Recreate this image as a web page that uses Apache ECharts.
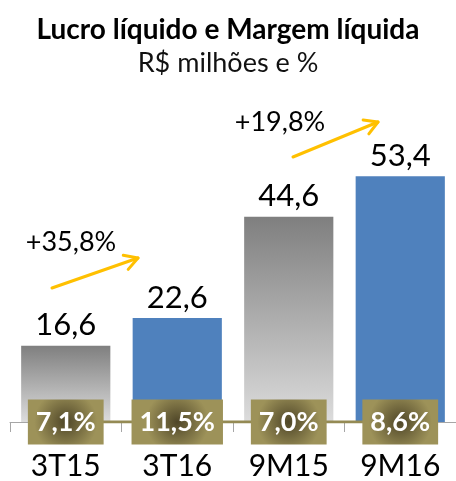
<!DOCTYPE html>
<html>
<head>
<meta charset="utf-8">
<script src="https://cdn.jsdelivr.net/npm/echarts@6/dist/echarts.min.js"></script>
<style>
  html, body { margin: 0; padding: 0; background: #fff; }
  #chart { width: 456px; height: 481px; }
</style>
</head>
<body>
<div id="chart"></div>
<script>
// dados do gráfico
const categories = ['3T15', '3T16', '9M15', '9M16'];
const lucro = [16.6, 22.6, 44.6, 53.4];
const margem = [7.1, 11.5, 7.0, 8.6];
const growthLabels = ['+35,8%', '+19,8%'];

const FONT = 'Lato';
const fmt = v => v.toFixed(1).replace('.', ',');

const grayGrad = new echarts.graphic.LinearGradient(0, 0, 0, 1, [
  { offset: 0, color: '#7f7f7f' },
  { offset: 1, color: '#dcdcdc' }
]);
const boxGrad = new echarts.graphic.RadialGradient(0.5, 0.5, 0.7, [
  { offset: 0, color: '#4f4628' },
  { offset: 1, color: '#9d9259' }
]);

// seta amarela (anotação)
function arrow(x1, y1, x2, y2) {
  const a = Math.atan2(y2 - y1, x2 - x1);
  const h = 15, s = Math.PI / 6;
  const p1 = [x2 - h * Math.cos(a - s), y2 - h * Math.sin(a - s)];
  const p2 = [x2 - h * Math.cos(a + s), y2 - h * Math.sin(a + s)];
  const style = { stroke: '#ffc000', lineWidth: 3, fill: null, lineCap: 'round', lineJoin: 'round' };
  return {
    type: 'group',
    children: [
      { type: 'polyline', shape: { points: [[x1, y1], [x2, y2]] }, style },
      { type: 'polyline', shape: { points: [p1, [x2, y2], p2] }, style }
    ]
  };
}

let myChart = echarts.init(document.getElementById('chart'));
let option = {
  animation: false,
  title: {
    text: 'Lucro líquido e Margem líquida',
    subtext: 'R$ milhões e %',
    left: 'center',
    top: 11,
    itemGap: 6,
    textStyle: { fontFamily: FONT, fontSize: 28, fontWeight: 'bold', color: '#000' },
    subtextStyle: { fontFamily: FONT, fontSize: 27, color: '#111' }
  },
  grid: { left: 10, width: 450, top: 146, height: 276 },
  xAxis: {
    type: 'category',
    data: categories,
    axisLine: { lineStyle: { color: '#a6a6a6', width: 1 } },
    axisTick: { show: true, length: 10, lineStyle: { color: '#a6a6a6' } },
    axisLabel: { fontFamily: FONT, fontSize: 30, color: '#000', margin: 29, lineHeight: 30 }
  },
  yAxis: [
    { type: 'value', min: 0, max: 60, show: false, splitLine: { show: false } },
    { type: 'value', min: 0, max: 100000, show: false, splitLine: { show: false } }
  ],
  series: [
    {
      type: 'bar',
      barCategoryGap: '20%',
      data: lucro.map((v, i) => ({
        value: v,
        itemStyle: { color: i % 2 === 0 ? grayGrad : '#4f81bd' }
      })),
      label: {
        show: true,
        position: 'top',
        distance: 5,
        fontFamily: FONT,
        fontSize: 31,
        color: '#000',
        formatter: p => fmt(p.value)
      }
    },
    {
      type: 'line',
      yAxisIndex: 1,
      data: margem,
      symbol: 'circle',
      symbolSize: 1,
      showSymbol: true,
      z: 5,
      itemStyle: { color: '#948a54' },
      lineStyle: { color: '#948a54', width: 3 },
      label: {
        show: true,
        position: 'inside',
        fontFamily: FONT,
        fontSize: 27,
        fontWeight: 'bold',
        lineHeight: 28,
        color: '#fff',
        backgroundColor: boxGrad,
        padding: [9, 8, 8, 8],
        formatter: p => fmt(p.value) + '%'
      }
    }
  ],
  graphic: [
    arrow(52, 288, 138, 258),
    arrow(293, 157, 378, 122),
    {
      type: 'text', x: 71, y: 242,
      style: { text: growthLabels[0], fontFamily: FONT, fontSize: 27, fill: '#000', align: 'center', verticalAlign: 'middle' }
    },
    {
      type: 'text', x: 280, y: 122,
      style: { text: growthLabels[1], fontFamily: FONT, fontSize: 27, fill: '#000', align: 'center', verticalAlign: 'middle' }
    }
  ]
};

option && myChart.setOption(option);
</script>
</body>
</html>
